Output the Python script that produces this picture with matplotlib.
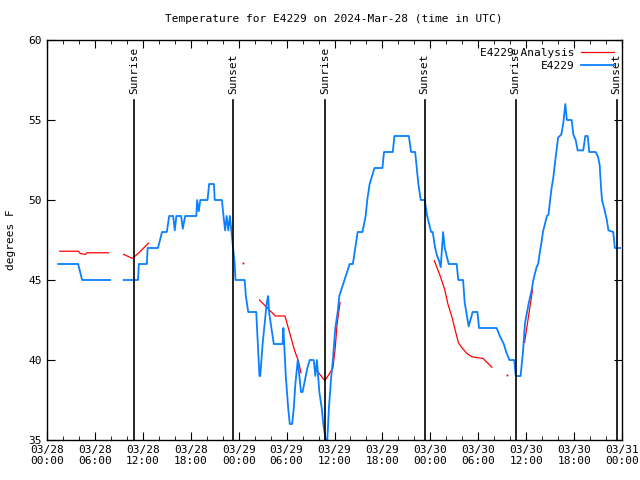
import numpy as np
import pandas as pd
import matplotlib
matplotlib.use("Agg")
import matplotlib.pyplot as plt
import matplotlib.dates as mdates

plt.rcParams['font.family'] = ['DejaVu Sans Mono']
plt.rcParams['font.size'] = 8

base = pd.Timestamp('2024-03-28 00:00')

# E4229 observations: hours since 03/28 00:00 UTC, degrees F (nan = gap)
obs_hours = [1.4, 3.9, 4.1, 4.4, 7.9, 8.0, 9.6, 11.4, 11.5, 12.5, 12.6, 13.9, 14.2, 14.4, 15.0,
             15.3, 15.8, 16.0, 16.2, 16.8, 17.0, 17.3, 18.7, 18.8, 19.0, 19.2, 20.1, 20.3, 20.9,
             21.0, 21.9, 22.1, 22.3, 22.5, 22.7, 22.9, 23.1, 23.3, 23.5, 23.6, 24.75, 24.9, 25.2,
             26.2, 26.4, 26.6, 26.7, 27.0, 27.3, 27.5, 27.6, 27.7, 27.8, 28.1, 28.4, 29.5, 29.6,
             29.7, 29.9, 30.2, 30.4, 30.7, 30.9, 31.1, 31.4, 31.6, 31.8, 32.0, 32.2, 32.4, 32.6,
             32.9, 33.4, 33.6, 33.8, 34.1, 34.4, 34.6, 34.9, 35.1, 35.3, 35.6, 35.8, 36.1, 36.4,
             36.6, 37.25, 37.9, 38.3, 38.6, 38.9, 39.5, 39.9, 40.1, 40.4, 41.0, 42.0, 42.2, 43.3,
             43.5, 45.3, 45.6, 46.1, 46.3, 46.5, 46.8, 47.3, 47.6, 48.1, 48.3, 48.6, 48.85, 49.1,
             49.3, 49.6, 49.8, 50.3, 51.3, 51.5, 52.1, 52.3, 52.5, 52.8, 53.3, 53.9, 54.1, 56.3,
             56.7, 57.2, 57.5, 57.9, 58.5, 58.6, 58.7, 59.3, 59.6, 59.85, 60.3, 60.7, 60.9, 61.3,
             61.5, 61.7, 61.9, 62.1, 62.6, 62.8, 63.0, 63.2, 63.4, 63.6, 63.8, 64.0, 64.4, 64.65,
             64.9, 65.1, 65.7, 65.9, 66.2, 66.45, 67.15, 67.4, 67.7, 67.9, 68.7, 69.0, 69.2, 69.4,
             69.5, 69.8, 70.1, 70.3, 70.9, 71.1, 71.75]
obs_temps = [46, 46, 45.6, 45, 45, np.nan, 45, 45, 46, 46, 47, 47, 47.6, 48, 48,
             49, 49, 48.1, 49, 49, 48.2, 49, 49, 50, 49.3, 50, 50, 51, 51,
             50, 50, 49, 48.1, 49, 48.1, 49, 48, 47, 46, 45, 45, 44, 43,
             43, 41, 39, 39, 41, 42.5, 43.5, 43.8, 44, 43, 42, 41, 41, 42,
             41, 39, 37, 36, 36, 37, 38.5, 40, 39, 38, 38, 38.5, 39, 39.5,
             40, 40, 39, 40, 38, 37, 36, 35, 35, 37, 39, 40, 42, 43,
             44, 45, 46, 46, 47, 48, 48, 49, 50, 51, 52, 52, 53, 53,
             54, 54, 53, 53, 52, 51, 50, 50, 49, 48, 48, 47, 46.5, 46.2,
             45.8, 48, 47, 46, 46, 45, 45, 43.6, 43, 42.1, 43, 43, 42, 42,
             41.5, 41, 40.5, 40, 40, 39.5, 39, 39, 40.5, 42.3, 43.5, 44.4, 45, 45.8,
             46, 46.7, 47.3, 48, 49, 49.1, 50, 50.8, 51.4, 52.3, 53.1, 53.9, 54.1, 54.8,
             56, 55, 55, 54.1, 53.75, 53.1, 53.1, 54, 54, 53, 53, 52.7, 52.2, 50.6,
             50, 49.4, 48.75, 48.1, 48, 47, 47]

# E4229 Analysis
ana_hours = [1.6, 3.9, 4.2, 4.8, 5.0, 7.7, 8.0, 9.6, 10.7, 11.5, 12.7, 13.0,
             24.5, 24.6, 26.6, 28.6, 29.8, 30.4, 31.0, 31.5, 31.8, 32.0,
             33.7, 34.8, 35.8, 36.1, 36.3, 36.5, 36.7, 37.0,
             48.5, 49.2, 49.8, 50.2, 50.7, 51.1, 51.5, 51.9, 52.6, 53.2, 54.0, 54.6, 55.2, 55.7, 56.0,
             57.6, 57.7, 59.8, 60.8]
ana_temps = [46.8, 46.8, 46.65, 46.6, 46.7, 46.7, np.nan, 46.6, 46.35, 46.7, 47.3, np.nan,
             46.05, np.nan, 43.75, 42.75, 42.75, 41.67, 40.6, 39.9, 39.2, np.nan,
             39.4, 38.7, 39.5, 40.8, 42.1, 42.9, 43.6, np.nan,
             46.2, 45.3, 44.4, 43.5, 42.7, 41.9, 41.1, 40.8, 40.4, 40.2, 40.14, 40.1, 39.8, 39.55, np.nan,
             39.06, np.nan, 41.1, 44.4]

sun_labels = ['Sunrise', 'Sunset', 'Sunrise', 'Sunset', 'Sunrise', 'Sunset']
sun_times = ['2024-03-28 10:52', '2024-03-28 23:17', '2024-03-29 10:50',
             '2024-03-29 23:18', '2024-03-30 10:40', '2024-03-30 23:19']

obs_t = base + pd.to_timedelta(obs_hours, unit='h')
ana_t = base + pd.to_timedelta(ana_hours, unit='h')

# single readings with no neighbour get drawn as a dot
ana_arr = np.array(ana_temps)
lonely = [i for i in range(len(ana_arr)) if not np.isnan(ana_arr[i])
          and (i == 0 or np.isnan(ana_arr[i - 1]))
          and (i == len(ana_arr) - 1 or np.isnan(ana_arr[i + 1]))]

fig = plt.figure(figsize=(6.4, 4.8), dpi=100)
ax = fig.add_axes([47 / 640, 40 / 480, 575 / 640, 400 / 480])

ax.plot(ana_t, ana_temps, color='#ff0000', lw=0.9, label='E4229 Analysis')
ax.plot(ana_t[lonely], ana_arr[lonely], ls='none', marker='s', ms=1.3, mew=0, color='#ff0000')
ax.plot(obs_t, obs_temps, color='#0a80ff', lw=1.3, label='E4229')

for lab, t in zip(sun_labels, sun_times):
    ts = pd.Timestamp(t)
    ax.plot([ts, ts], [35, 56.25], color='black', lw=1.2)
    ax.text(ts, 56.6, lab, rotation=90, ha='center', va='bottom', fontsize=8)

ax.set_xlim(base, base + pd.Timedelta(hours=72))
ax.set_ylim(35, 60)
ax.set_yticks([35, 40, 45, 50, 55, 60])
ax.xaxis.set_major_locator(mdates.HourLocator(byhour=range(0, 24, 6)))
ax.xaxis.set_minor_locator(mdates.HourLocator(byhour=range(0, 24, 2)))
ax.xaxis.set_major_formatter(mdates.DateFormatter('%m/%d\n%H:%M'))
ax.tick_params(which='both', direction='in', top=True, right=True, labelsize=8)
ax.tick_params(which='major', length=6)
ax.tick_params(which='minor', length=3)
for s in ax.spines.values():
    s.set_linewidth(1)

ax.set_ylabel('degrees F', labelpad=9)
fig.text(0.522, 1 - 19 / 480, 'Temperature for E4229 on 2024-Mar-28 (time in UTC)',
         ha='center', va='center', fontsize=8)
ax.legend(loc='upper right', frameon=False, markerfirst=False, handlelength=3.0,
          handletextpad=0.6, borderaxespad=0.3, labelspacing=0.25, fontsize=8)

fig.savefig('out.png', dpi=100)
